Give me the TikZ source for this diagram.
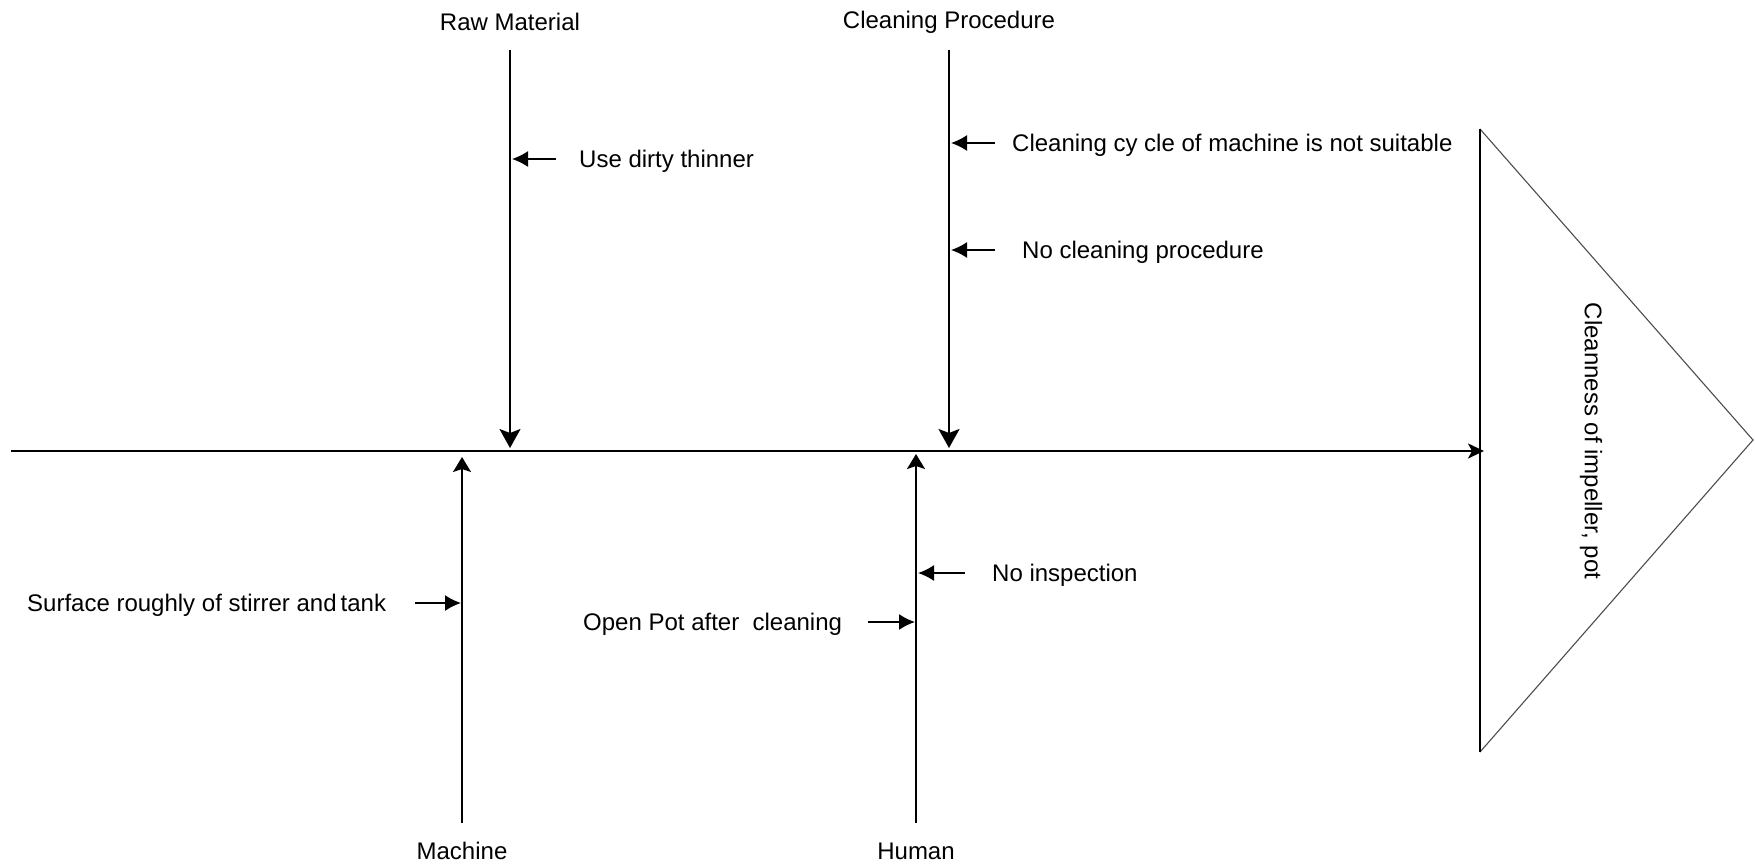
\documentclass[tikz,border=0pt]{standalone}
\usepackage{fontspec}
\setmainfont{Liberation Sans}
\usetikzlibrary{arrows.meta}
\begin{document}
\begin{tikzpicture}[x=1pt,y=-1pt,
  lbl/.style={font=\fontsize{24}{28}\selectfont, inner sep=0pt},
  bone/.style={line width=2pt},
  headdown/.style={-{Stealth[length=19pt,width=21pt,inset=4pt]}},
  headup/.style={-{Stealth[length=15pt,width=18pt,inset=3pt]}},
  subarrow/.style={line width=1.6pt,-{Latex[length=16pt,width=16pt]}},
  spine/.style={line width=2pt,-{Stealth[length=16pt,width=15pt,inset=4pt]}}]
\useasboundingbox (0,0) rectangle (1755,867);

% head of the fish
\coordinate (htop) at (1480,129);
\coordinate (hbot) at (1480,752);
\coordinate (apex) at (1753,440);
\draw[line width=1.1pt, black!70] (htop) -- (apex) -- (hbot);
\draw[line width=2.5pt] (htop) -- (hbot);
\node[lbl, rotate=-90] (effect) at (1591,441) {Cleanness of impeller, pot};

% spine
\coordinate (tail) at (11,451);
\coordinate (mouth) at (1484,451);
\draw[spine] (tail) -- (mouth);

% main bones, top
\node[lbl] (raw) at (510,22) {Raw Material};
\node[lbl] (cleanproc) at (949,22) {Cleaning Procedure};
\coordinate (rawtop) at (510,50);
\coordinate (rawtip) at (510,448);
\coordinate (cptop) at (949,50);
\coordinate (cptip) at (949,448);
\draw[bone, headdown] (rawtop) -- (rawtip);
\draw[bone, headdown] (cptop) -- (cptip);

% main bones, bottom
\node[lbl] (machine) at (462,851) {Machine};
\node[lbl] (human) at (916,851) {Human};
\coordinate (machbot) at (462,823);
\coordinate (machtip) at (462,457);
\coordinate (humbot) at (916,823);
\coordinate (humtip) at (916,454);
\draw[bone, headup] (machbot) -- (machtip);
\draw[bone, headup] (humbot) -- (humtip);

% causes on Raw Material
\node[lbl, anchor=west] (thinner) at (579,161) {Use dirty thinner};
\coordinate (thinnerS) at (556,159);
\coordinate (thinnerE) at (512,159);
\draw[subarrow] (thinnerS) -- (thinnerE);

% causes on Cleaning Procedure
\node[lbl, anchor=west] (cycle) at (1012,145) {Cleaning cy cle of machine is not suitable};
\coordinate (cycleS) at (995,143);
\coordinate (cycleE) at (951,143);
\draw[subarrow] (cycleS) -- (cycleE);
\node[lbl, anchor=west] (noproc) at (1022,252) {No cleaning procedure};
\coordinate (noprocS) at (995,250);
\coordinate (noprocE) at (951,250);
\draw[subarrow] (noprocS) -- (noprocE);

% causes on Machine
\node[lbl, anchor=west] (surface) at (27,605) {Surface roughly of stirrer and\,tank};
\coordinate (surfaceS) at (415,603);
\coordinate (surfaceE) at (461,603);
\draw[subarrow] (surfaceS) -- (surfaceE);

% causes on Human
\node[lbl, anchor=west] (inspect) at (992,575) {No inspection};
\coordinate (inspectS) at (965,573);
\coordinate (inspectE) at (918,573);
\draw[subarrow] (inspectS) -- (inspectE);
\node[lbl, anchor=west] (openpot) at (583,624) {Open Pot after~~cleaning};
\coordinate (openpotS) at (868,622);
\coordinate (openpotE) at (915,622);
\draw[subarrow] (openpotS) -- (openpotE);
\end{tikzpicture}
\end{document}
